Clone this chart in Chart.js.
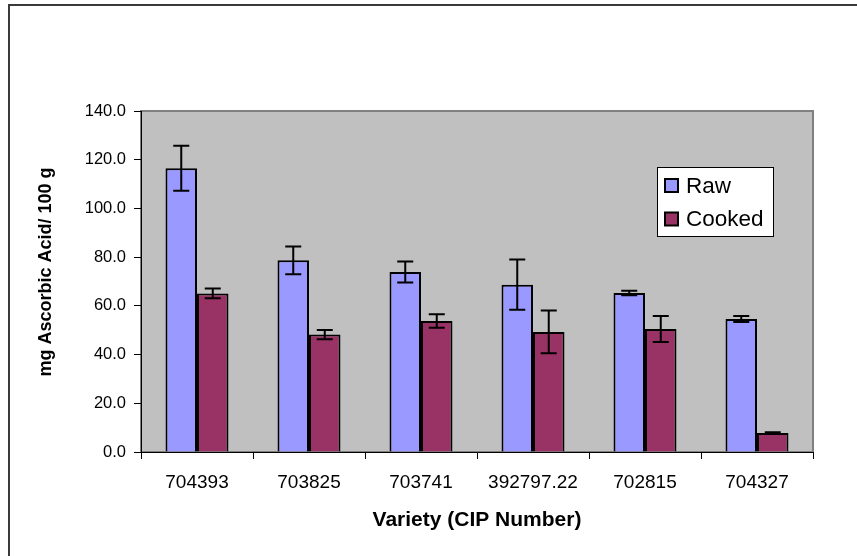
<!DOCTYPE html>
<html>
<head>
<meta charset="utf-8">
<script src="https://cdn.jsdelivr.net/npm/chart.js@4/dist/chart.umd.min.js"></script>
<style>
  html, body { margin: 0; padding: 0; background: #ffffff; }
  canvas { display: block; }
</style>
</head>
<body>
<canvas id="c" width="857" height="556"></canvas>
<script>
// ---- data ----
const categories = ['704393', '703825', '703741', '392797.22', '702815', '704327'];
const rawValues = [116.5, 78.7, 73.9, 68.7, 65.3, 54.6];
const rawErrors = [9.2, 5.7, 4.3, 10.3, 0.9, 1.2];
const cookedValues = [65.1, 48.2, 53.8, 49.3, 50.5, 7.8];
const cookedErrors = [2.0, 1.9, 2.8, 8.8, 5.3, 0.3];
const seriesNames = ['Raw', 'Cooked'];
const yTicks = [0, 20, 40, 60, 80, 100, 120, 140];
const xTitle = 'Variety (CIP Number)';
const yTitle = 'mg Ascorbic Acid/ 100 g';

const FONT = "'Liberation Sans', Arial, sans-serif";

const plotBackground = {
  id: 'plotBackground',
  beforeDraw(chart) {
    const {ctx, chartArea: a} = chart;
    ctx.save();
    // outer chart border
    ctx.strokeStyle = '#3a3a3a';
    ctx.lineWidth = 2;
    ctx.strokeRect(9, 5, 900, 600);
    // plot area
    ctx.fillStyle = '#C0C0C0';
    ctx.fillRect(a.left, a.top, a.right - a.left, a.bottom - a.top);
    ctx.strokeStyle = '#808080';
    ctx.lineWidth = 2;
    ctx.strokeRect(a.left, a.top, a.right - a.left, a.bottom - a.top);
    ctx.restore();
  }
};

const yAxisTitle = {
  id: 'yAxisTitle',
  afterDraw(chart) {
    const {ctx} = chart;
    ctx.save();
    ctx.translate(46, 272);
    ctx.rotate(-Math.PI / 2);
    ctx.font = 'bold 18px ' + FONT;
    ctx.fillStyle = '#000000';
    ctx.textAlign = 'center';
    ctx.textBaseline = 'middle';
    ctx.fillText(yTitle, 0, 0);
    ctx.restore();
  }
};

const errorBars = {
  id: 'errorBars',
  afterDatasetsDraw(chart) {
    const {ctx} = chart;
    const y = chart.scales.y;
    ctx.save();
    ctx.strokeStyle = '#000000';
    ctx.lineWidth = 2;
    chart.data.datasets.forEach((ds, di) => {
      const meta = chart.getDatasetMeta(di);
      meta.data.forEach((bar, i) => {
        const v = ds.data[i];
        const e = ds.errors[i];
        const yTop = y.getPixelForValue(v + e);
        const yBot = y.getPixelForValue(v - e);
        const x = bar.x;
        const cap = 8;
        ctx.beginPath();
        ctx.moveTo(x, yTop); ctx.lineTo(x, yBot);
        ctx.moveTo(x - cap, yTop); ctx.lineTo(x + cap, yTop);
        ctx.moveTo(x - cap, yBot); ctx.lineTo(x + cap, yBot);
        ctx.stroke();
      });
    });
    ctx.restore();
  }
};

const boxLegend = {
  id: 'boxLegend',
  afterDraw(chart) {
    const {ctx} = chart;
    const bx = 657.5, by = 167.5, bw = 116, bh = 69;
    ctx.save();
    ctx.fillStyle = '#ffffff';
    ctx.fillRect(bx, by, bw, bh);
    ctx.strokeStyle = '#000000';
    ctx.lineWidth = 1;
    ctx.strokeRect(bx, by, bw, bh);
    ctx.font = '22.5px ' + FONT;
    ctx.textBaseline = 'middle';
    ctx.textAlign = 'left';
    chart.data.datasets.forEach((ds, i) => {
      const cy = 185.5 + i * 33.5;
      ctx.fillStyle = '#000000';
      ctx.fillRect(664, cy - 7.5, 15, 15);
      ctx.fillStyle = ds.backgroundColor;
      ctx.fillRect(666, cy - 5.5, 11, 11);
      ctx.fillStyle = '#000000';
      ctx.fillText(ds.label, 686, cy + 1);
    });
    ctx.restore();
  }
};

new Chart(document.getElementById('c'), {
  type: 'bar',
  data: {
    labels: categories,
    datasets: [
      {
        label: seriesNames[0],
        data: rawValues,
        errors: rawErrors,
        backgroundColor: '#9999FF',
        borderColor: '#000000',
        borderWidth: 2,
        borderSkipped: 'start',
        categoryPercentage: 0.5625,
        barPercentage: 1.0
      },
      {
        label: seriesNames[1],
        data: cookedValues,
        errors: cookedErrors,
        backgroundColor: '#993366',
        borderColor: '#000000',
        borderWidth: 2,
        borderSkipped: 'start',
        categoryPercentage: 0.5625,
        barPercentage: 1.0
      }
    ]
  },
  options: {
    responsive: false,
    animation: false,
    devicePixelRatio: 1,
    layout: { padding: { top: 111, right: 44, left: 0, bottom: 0 } },
    plugins: {
      legend: { display: false },
      tooltip: { enabled: false }
    },
    scales: {
      x: {
        offset: true,
        grid: {
          offset: true,
          drawOnChartArea: false,
          drawTicks: true,
          tickLength: 7,
          color: '#000000',
          lineWidth: 1
        },
        border: { display: true, color: '#000000', width: 1 },
        ticks: {
          color: '#000000',
          padding: 12,
          maxRotation: 0,
          autoSkip: false,
          font: { family: FONT, size: 19 }
        },
        title: {
          display: true,
          text: xTitle,
          color: '#000000',
          font: { family: FONT, size: 21, weight: 'bold' },
          padding: { top: 0, bottom: 23 }
        },
        afterFit(s) { s.height = 104; }
      },
      y: {
        min: 0,
        max: 140,
        afterBuildTicks(s) { s.ticks = yTicks.map(v => ({ value: v })); },
        grid: {
          drawOnChartArea: false,
          drawTicks: true,
          tickLength: 7,
          color: '#000000',
          lineWidth: 1
        },
        border: { display: true, color: '#000000', width: 1 },
        ticks: {
          color: '#000000',
          padding: 8,
          font: { family: FONT, size: 16.5 },
          callback: (v) => Number(v).toFixed(1)
        },
        title: { display: false },
        afterFit(s) { s.width = 141; }
      }
    }
  },
  plugins: [plotBackground, errorBars, boxLegend, yAxisTitle]
});
</script>
</body>
</html>
